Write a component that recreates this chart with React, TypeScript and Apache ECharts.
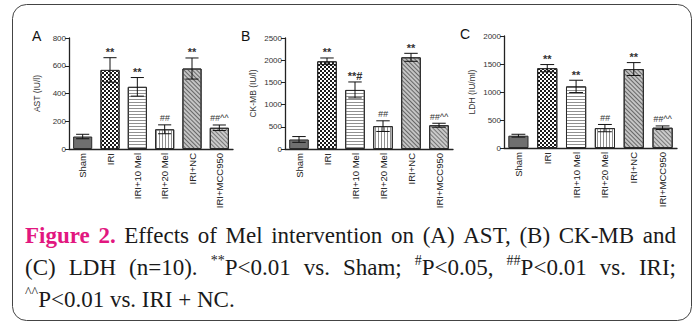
import React, { useEffect, useRef } from "react";
import * as echarts from "echarts";

// ---------------- data ----------------
const categories = ["Sham", "IRI", "IRI+10 Mel", "IRI+20 Mel", "IRI+NC", "IRI+MCC950"];

const astMean = [90, 570, 448, 142, 580, 153];
const astErr = [16, 88, 67, 32, 76, 20];
const astMarks = ["", "**", "**", "##", "**", "##^^"];
const astTicks = { max: 800, interval: 200 };

const ckMean = [215, 1975, 1330, 515, 2065, 535];
const ckErr = [65, 75, 180, 120, 90, 45];
const ckMarks = ["", "**", "**#", "##", "**", "##^^"];
const ckTicks = { max: 2500, interval: 500 };

const ldhMean = [220, 1425, 1100, 355, 1410, 362];
const ldhErr = [25, 65, 110, 65, 115, 32];
const ldhMarks = ["", "**", "**", "##", "**", "##^^"];
const ldhTicks = { max: 2000, interval: 500 };

const panelLetters = ["A", "B", "C"];
const yNames = ["AST (IU/l)", "CK-MB (IU/l)", "LDH (IU/ml)"];

// caption words (each word = list of tokens; sup tokens are superscripts)
type Tok = { t: string; sup?: boolean; bold?: boolean; pink?: boolean };
const captionLines: Tok[][][] = [
  [
    [{ t: "Figure", bold: true, pink: true }],
    [{ t: "2.", bold: true, pink: true }],
    [{ t: "Effects" }], [{ t: "of" }], [{ t: "Mel" }], [{ t: "intervention" }], [{ t: "on" }],
    [{ t: "(A)" }], [{ t: "AST," }], [{ t: "(B)" }], [{ t: "CK-MB" }], [{ t: "and" }],
  ],
  [
    [{ t: "(C)" }], [{ t: "LDH" }], [{ t: "(n=10)." }],
    [{ t: "**", sup: true }, { t: "P<0.01" }], [{ t: "vs." }], [{ t: "Sham;" }],
    [{ t: "#", sup: true }, { t: "P<0.05," }],
    [{ t: "##", sup: true }, { t: "P<0.01" }], [{ t: "vs." }], [{ t: "IRI;" }],
  ],
  [
    [{ t: "^^", sup: true }, { t: "P<0.01" }], [{ t: "vs." }], [{ t: "IRI" }], [{ t: "+" }], [{ t: "NC." }],
  ],
];

// ---------------- styles ----------------
const barStyles: any[] = [
  { color: "#6f6f6f" },
  {
    color: "#ffffff",
    decal: { symbol: "rect", symbolSize: 1, color: "#1a1a1a", dashArrayX: [[2, 2], [0, 2, 2, 0]], dashArrayY: [2, 0] },
  },
  {
    color: "#ffffff",
    decal: { symbol: "rect", symbolSize: 1, color: "#909090", dashArrayX: [1, 0], dashArrayY: [1, 1.3] },
  },
  {
    color: "#ffffff",
    decal: { symbol: "rect", symbolSize: 1, color: "#8f8f8f", dashArrayX: [1, 2], dashArrayY: [1, 0] },
  },
  {
    color: "#c4c4c4",
    decal: { symbol: "rect", symbolSize: 1, color: "#666666", dashArrayX: [1, 0], dashArrayY: [1, 1.5], rotation: Math.PI / 4 },
  },
  {
    color: "#cacaca",
    decal: { symbol: "rect", symbolSize: 1, color: "#777777", dashArrayX: [1, 0], dashArrayY: [1, 1.8], rotation: Math.PI / 4 },
  },
];

const grids = [
  { left: 69, top: 38, width: 164, height: 111 },
  { left: 285, top: 38, width: 168, height: 111 },
  { left: 504, top: 36, width: 173, height: 112 },
];
const letterPos = [
  [32, 29],
  [241, 29],
  [460, 27],
];

const SANS = "'Liberation Sans', Arial, sans-serif";
const SERIF = "'Liberation Serif', 'Times New Roman', serif";

function buildCaption(): any[] {
  const MAIN = 23;
  const SUP = 14;
  const ctx = document.createElement("canvas").getContext("2d")!;
  const fontOf = (tk: Tok) => `${tk.bold ? "bold " : ""}${tk.sup ? SUP : MAIN}px ${SERIF}`;
  const width = (tk: Tok) => {
    ctx.font = fontOf(tk);
    return ctx.measureText(tk.t).width;
  };
  ctx.font = `${MAIN}px ${SERIF}`;
  const spaceW = ctx.measureText(" ").width;
  const baselines = [243, 275, 307];
  const xStart = 25;
  const xEnd = 676;
  const els: any[] = [];
  captionLines.forEach((words, li) => {
    const ws = words.map((w) => w.reduce((s, tk) => s + width(tk), 0));
    const total = ws.reduce((a, b) => a + b, 0);
    const justify = li < captionLines.length - 1;
    const gap = justify ? (xEnd - xStart - total) / (words.length - 1) : spaceW;
    let x = xStart;
    const base = baselines[li];
    words.forEach((w, wi) => {
      let cx = x;
      w.forEach((tk) => {
        els.push({
          type: "text",
          x: cx,
          y: tk.sup ? base - 15 : base - 0.3375 * MAIN,
          style: {
            text: tk.t,
            font: fontOf(tk),
            fill: tk.pink ? "#e2177f" : "#1a1a1a",
            align: "left",
            verticalAlign: "middle",
          },
        });
        cx += width(tk);
      });
      x += ws[wi] + gap;
    });
  });
  return els;
}

export default function App() {
  const ref = useRef<HTMLDivElement>(null);
  useEffect(() => {
    if (!ref.current) return;
    const chart = echarts.init(ref.current, undefined, { renderer: "svg" });
    const panels = [
      { mean: astMean, err: astErr, marks: astMarks, ticks: astTicks },
      { mean: ckMean, err: ckErr, marks: ckMarks, ticks: ckTicks },
      { mean: ldhMean, err: ldhErr, marks: ldhMarks, ticks: ldhTicks },
    ];
    const series: any[] = [];
    panels.forEach((p, gi) => {
      series.push({
        type: "bar",
        xAxisIndex: gi,
        yAxisIndex: gi,
        barCategoryGap: "30%",
        data: p.mean.map((v, i) => ({
          value: v,
          itemStyle: { ...barStyles[i], borderColor: "#2a2a2a", borderWidth: 1 },
        })),
      });
      series.push({
        type: "custom",
        xAxisIndex: gi,
        yAxisIndex: gi,
        z: 10,
        data: p.mean.map((m, i) => [i, m - p.err[i], m + p.err[i]]),
        renderItem: (params: any, api: any) => {
          const i = api.value(0);
          const lo = api.coord([i, api.value(1)]);
          const hi = api.coord([i, api.value(2)]);
          const band = api.size([1, 0])[0];
          const cw = band * 0.24;
          const st = { stroke: "#111", lineWidth: 1 };
          const mark = p.marks[params.dataIndex];
          const isStar = mark.startsWith("**");
          return {
            type: "group",
            children: [
              { type: "line", shape: { x1: hi[0], y1: hi[1], x2: lo[0], y2: lo[1] }, style: st },
              { type: "line", shape: { x1: hi[0] - cw, y1: hi[1], x2: hi[0] + cw, y2: hi[1] }, style: st },
              { type: "line", shape: { x1: lo[0] - cw, y1: lo[1], x2: lo[0] + cw, y2: lo[1] }, style: st },
              {
                type: "text",
                x: hi[0],
                y: hi[1] - (isStar ? 0 : 2),
                style: {
                  text: mark,
                  fontSize: isStar ? 11 : 9,
                  fontFamily: SANS,
                  fontWeight: isStar ? "bold" : "normal",
                  fontStyle: isStar ? "normal" : "italic",
                  fill: "#333",
                  align: "center",
                  verticalAlign: "bottom",
                },
              },
            ],
          };
        },
      });
    });

    const graphic: any[] = [
      {
        type: "rect",
        shape: { x: 12.5, y: 4.5, width: 679, height: 316, r: 14 },
        style: { fill: "none", stroke: "#444", lineWidth: 1 },
      },
      ...panelLetters.map((l, i) => ({
        type: "text",
        x: letterPos[i][0],
        y: letterPos[i][1],
        style: { text: l, fontSize: 14, fontFamily: SANS, fill: "#111", align: "left", verticalAlign: "top" },
      })),
      ...buildCaption(),
    ];

    chart.setOption({
      animation: false,
      backgroundColor: "#ffffff",
      grid: grids.map((g) => ({ ...g })),
      xAxis: grids.map((_, gi) => ({
        type: "category",
        gridIndex: gi,
        data: categories,
        axisLine: { lineStyle: { color: "#222", width: 1.3 } },
        axisTick: { show: false },
        axisLabel: { rotate: 90, fontSize: 9.5, color: "#222", margin: 4, interval: 0, fontFamily: SANS },
      })),
      yAxis: panels.map((p, gi) => ({
        type: "value",
        gridIndex: gi,
        min: 0,
        max: p.ticks.max,
        interval: p.ticks.interval,
        splitLine: { show: false },
        axisLine: { show: true, lineStyle: { color: "#222", width: 1.3 } },
        axisTick: { show: true, length: 4, lineStyle: { color: "#222" } },
        axisLabel: { fontSize: 8, color: "#333", margin: 3, fontFamily: SANS, formatter: (v: number) => String(v) },
        name: yNames[gi],
        nameLocation: "middle",
        nameGap: 28,
        nameTextStyle: { fontSize: 8.5, color: "#333", fontFamily: SANS },
      })),
      series,
      graphic,
    });
    return () => chart.dispose();
  }, []);
  return <div ref={ref} style={{ position: "absolute", left: 0, top: 0, width: 699, height: 321 }} />;
}
